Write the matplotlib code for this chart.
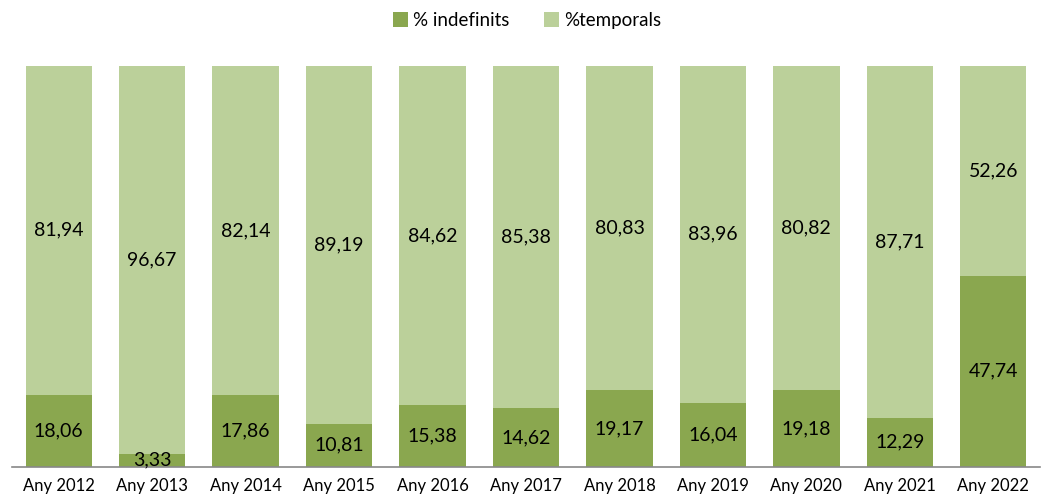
import numpy as np
import matplotlib
matplotlib.use('Agg')
import matplotlib.pyplot as plt

plt.rcParams['font.family'] = ['Lato', 'DejaVu Sans']

years = ['Any 2012', 'Any 2013', 'Any 2014', 'Any 2015', 'Any 2016', 'Any 2017',
         'Any 2018', 'Any 2019', 'Any 2020', 'Any 2021', 'Any 2022']
indefinits = [18.06, 3.33, 17.86, 10.81, 15.38, 14.62, 19.17, 16.04, 19.18, 12.29, 47.74]
temporals = [81.94, 96.67, 82.14, 89.19, 84.62, 85.38, 80.83, 83.96, 80.82, 87.71, 52.26]

dark = '#8aa74f'
light = '#bbd09a'

def fmt(v):
    return '{:.2f}'.format(v).replace('.', ',')

fig = plt.figure(figsize=(10.54, 5.03), dpi=100)
ax = fig.add_axes([12/1054, 36/503, 1028/1054, 401/503])

x = np.arange(len(years))
w = 0.71
b1 = ax.bar(x, indefinits, w, color=dark, label='% indefinits')
b2 = ax.bar(x, temporals, w, bottom=indefinits, color=light, label='%temporals')

# etiquetes dins de cada tram
for i in range(len(years)):
    ax.text(x[i], indefinits[i]/2, fmt(indefinits[i]), ha='center', va='center',
            fontsize=14, color='black')
    ax.text(x[i], indefinits[i] + temporals[i]/2, fmt(temporals[i]), ha='center',
            va='center', fontsize=14, color='black')

ax.set_xlim(-0.5, len(years) - 0.5)
ax.set_ylim(0, 100)
ax.set_xticks(x)
ax.set_xticklabels(years, fontsize=12)
ax.set_yticks([])
for s in ['top', 'right', 'left']:
    ax.spines[s].set_visible(False)
ax.spines['bottom'].set_color('#888888')
ax.spines['bottom'].set_linewidth(1.2)
ax.tick_params(axis='x', length=0, pad=8)

fig.legend(handles=[b1, b2], loc='upper center', bbox_to_anchor=(0.5, 1.01), ncol=2,
           frameon=False, fontsize=13.5, handlelength=0.8, handleheight=0.8,
           handletextpad=0.3, columnspacing=1.8)

fig.savefig('out.png', dpi=100)
